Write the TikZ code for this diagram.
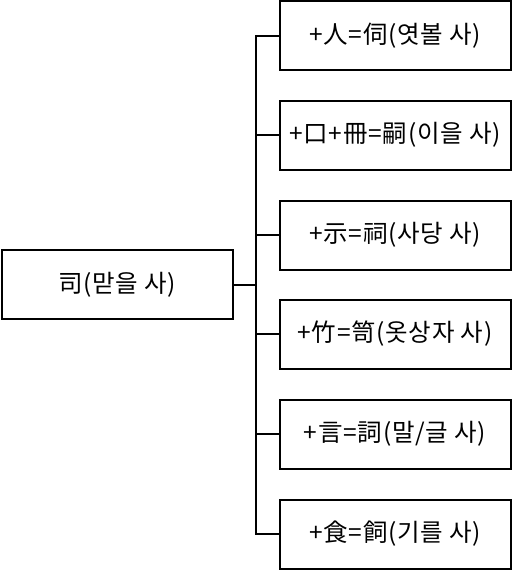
\documentclass[tikz,border=0pt]{standalone}
\usepackage{fontspec}
\setmainfont{Noto Sans CJK KR}[LetterSpace=3]
\begin{document}
\begin{tikzpicture}[x=1pt,y=-1pt,
  box/.style={draw, line width=2pt, minimum width=231pt, minimum height=69pt, inner sep=0pt,
    font=\fontsize{24.5}{30}\selectfont},
  link/.style={line width=2pt}]
\useasboundingbox (0,0) rectangle (512,570);
\node[box] (root) at (117,284.5) {司(맏을 사)};
\node[box] (r1) at (395,35.5) {+人=伺(엿볼 사)};
\node[box] (r2) at (395,135) {+口+冊=嗣(이을 사)};
\node[box] (r3) at (395,235) {+示=祠(사당 사)};
\node[box] (r4) at (395,334) {+竹=笥(옷상자 사)};
\node[box] (r5) at (395,434) {+言=詞(말/글 사)};
\node[box] (r6) at (395,534) {+食=飼(기를 사)};
\coordinate (bus) at (256,284.5);
\draw[link] (root.east) -- (bus);
\foreach \i in {1,...,6}{\draw[link] (bus) |- (r\i.west);}
\end{tikzpicture}
\end{document}
